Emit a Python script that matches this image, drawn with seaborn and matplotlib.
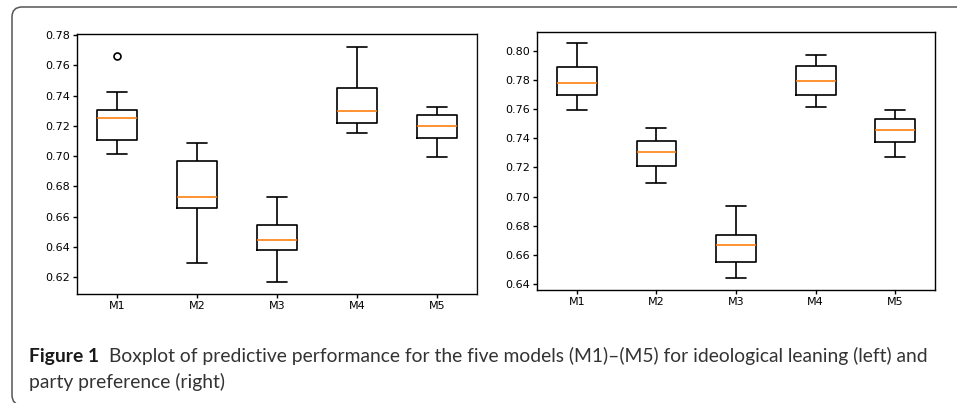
import numpy as np
import pandas as pd
import matplotlib
matplotlib.use("Agg")
import matplotlib.pyplot as plt
import matplotlib.transforms as mtransforms
from matplotlib.patches import FancyBboxPatch
import seaborn as sns

models = ["M1", "M2", "M3", "M4", "M5"]

# ideological leaning (left panel), per-fold scores
ideo_m1 = [0.7013, 0.7062, 0.7108, 0.7185, 0.7249, 0.7281, 0.7304, 0.7421, 0.7660]
ideo_m2 = [0.6297, 0.6512, 0.6658, 0.6701, 0.6729, 0.6846, 0.6971, 0.7035, 0.7090]
ideo_m3 = [0.6165, 0.6310, 0.6378, 0.6420, 0.6447, 0.6492, 0.6548, 0.6634, 0.6731]
ideo_m4 = [0.7154, 0.7188, 0.7216, 0.7260, 0.7295, 0.7371, 0.7452, 0.7580, 0.7723]
ideo_m5 = [0.6991, 0.7060, 0.7117, 0.7165, 0.7201, 0.7240, 0.7271, 0.7300, 0.7326]

# party preference (right panel)
party_m1 = [0.7592, 0.7650, 0.7697, 0.7741, 0.7780, 0.7832, 0.7885, 0.7960, 0.8050]
party_m2 = [0.7090, 0.7158, 0.7212, 0.7266, 0.7308, 0.7350, 0.7381, 0.7430, 0.7473]
party_m3 = [0.6441, 0.6502, 0.6554, 0.6610, 0.6666, 0.6701, 0.6739, 0.6840, 0.6937]
party_m4 = [0.7617, 0.7660, 0.7697, 0.7750, 0.7789, 0.7840, 0.7895, 0.7930, 0.7968]
party_m5 = [0.7269, 0.7330, 0.7372, 0.7420, 0.7455, 0.7498, 0.7530, 0.7560, 0.7594]

ideo_ticks = [0.62, 0.64, 0.66, 0.68, 0.70, 0.72, 0.74, 0.76, 0.78]
party_ticks = [0.64, 0.66, 0.68, 0.70, 0.72, 0.74, 0.76, 0.78, 0.80]

caption_bold = "Figure 1"
caption_line1 = "Boxplot of predictive performance for the five models (M1)\u2013(M5) for ideological leaning (left) and"
caption_line2 = "party preference (right)"


def long_df(groups):
    rows = []
    for m, vals in zip(models, groups):
        for v in vals:
            rows.append({"model": m, "score": v})
    return pd.DataFrame(rows)


df_ideo = long_df([ideo_m1, ideo_m2, ideo_m3, ideo_m4, ideo_m5])
df_party = long_df([party_m1, party_m2, party_m3, party_m4, party_m5])

sns.set_style("ticks", rc={"axes.edgecolor": "black", "xtick.color": "black",
                           "ytick.color": "black", "text.color": "black"})
plt.rcParams["font.family"] = ["DejaVu Sans"]

W, H = 957, 403
fig = plt.figure(figsize=(W / 100, H / 100), dpi=100)


def draw_panel(rect, df, ticks, ylim):
    ax = fig.add_axes(rect)
    sns.boxplot(data=df, x="model", y="score", ax=ax, fill=False, color="black",
                width=0.5, linewidth=1.2,
                medianprops={"color": "#ff7f0e", "linewidth": 1.2},
                flierprops={"marker": "o", "markersize": 5, "markeredgecolor": "black",
                            "markerfacecolor": "none", "markeredgewidth": 1.2})
    ax.set_xlim(-0.5, 4.5)
    ax.set_ylim(*ylim)
    ax.set_yticks(ticks)
    ax.set_yticklabels(["%.2f" % t for t in ticks])
    ax.set_xlabel("")
    ax.set_ylabel("")
    ax.tick_params(labelsize=8, length=3, width=1, pad=2)
    for s in ax.spines.values():
        s.set_visible(True)
        s.set_linewidth(1.0)
        s.set_color("black")
    return ax


def px_rect(x0, y0, x1, y1):
    return [x0 / W, 1 - y1 / H, (x1 - x0) / W, (y1 - y0) / H]


draw_panel(px_rect(77, 34, 477, 294), df_ideo, ideo_ticks, (0.6089, 0.7807))
draw_panel(px_rect(537, 32, 935, 290), df_party, party_ticks, (0.6359, 0.8128))

# faint edge of the left image
fig.add_artist(plt.Line2D([478 / W, 478 / W], [1 - 295 / H, 1 - 33 / H],
                          transform=fig.transFigure, color="#dcdcdc", lw=0.8))

# caption box border (cut off on the right and bottom)
frame = FancyBboxPatch((12, -2), 980, H - 5, boxstyle="round,pad=0,rounding_size=10",
                       transform=mtransforms.IdentityTransform(), fill=False,
                       edgecolor="#555555", linewidth=1.1, clip_on=False)
fig.add_artist(frame)

cap_font = ["Lato", "DejaVu Sans"]
cap_size = 13.9
t_bold = fig.text(29 / W, 1 - 362 / H, caption_bold, fontsize=cap_size, fontweight="bold",
                  family=cap_font, va="baseline", ha="left", color="#1a1a1a")
fig.canvas.draw()
bb = t_bold.get_window_extent(renderer=fig.canvas.get_renderer())
fig.text((bb.x1 + 10) / W, 1 - 362 / H, caption_line1, fontsize=cap_size,
         family=cap_font, va="baseline", ha="left", color="#333333")
fig.text(29 / W, 1 - 388 / H, caption_line2, fontsize=cap_size,
         family=cap_font, va="baseline", ha="left", color="#333333")

fig.savefig("out.png", dpi=100)
